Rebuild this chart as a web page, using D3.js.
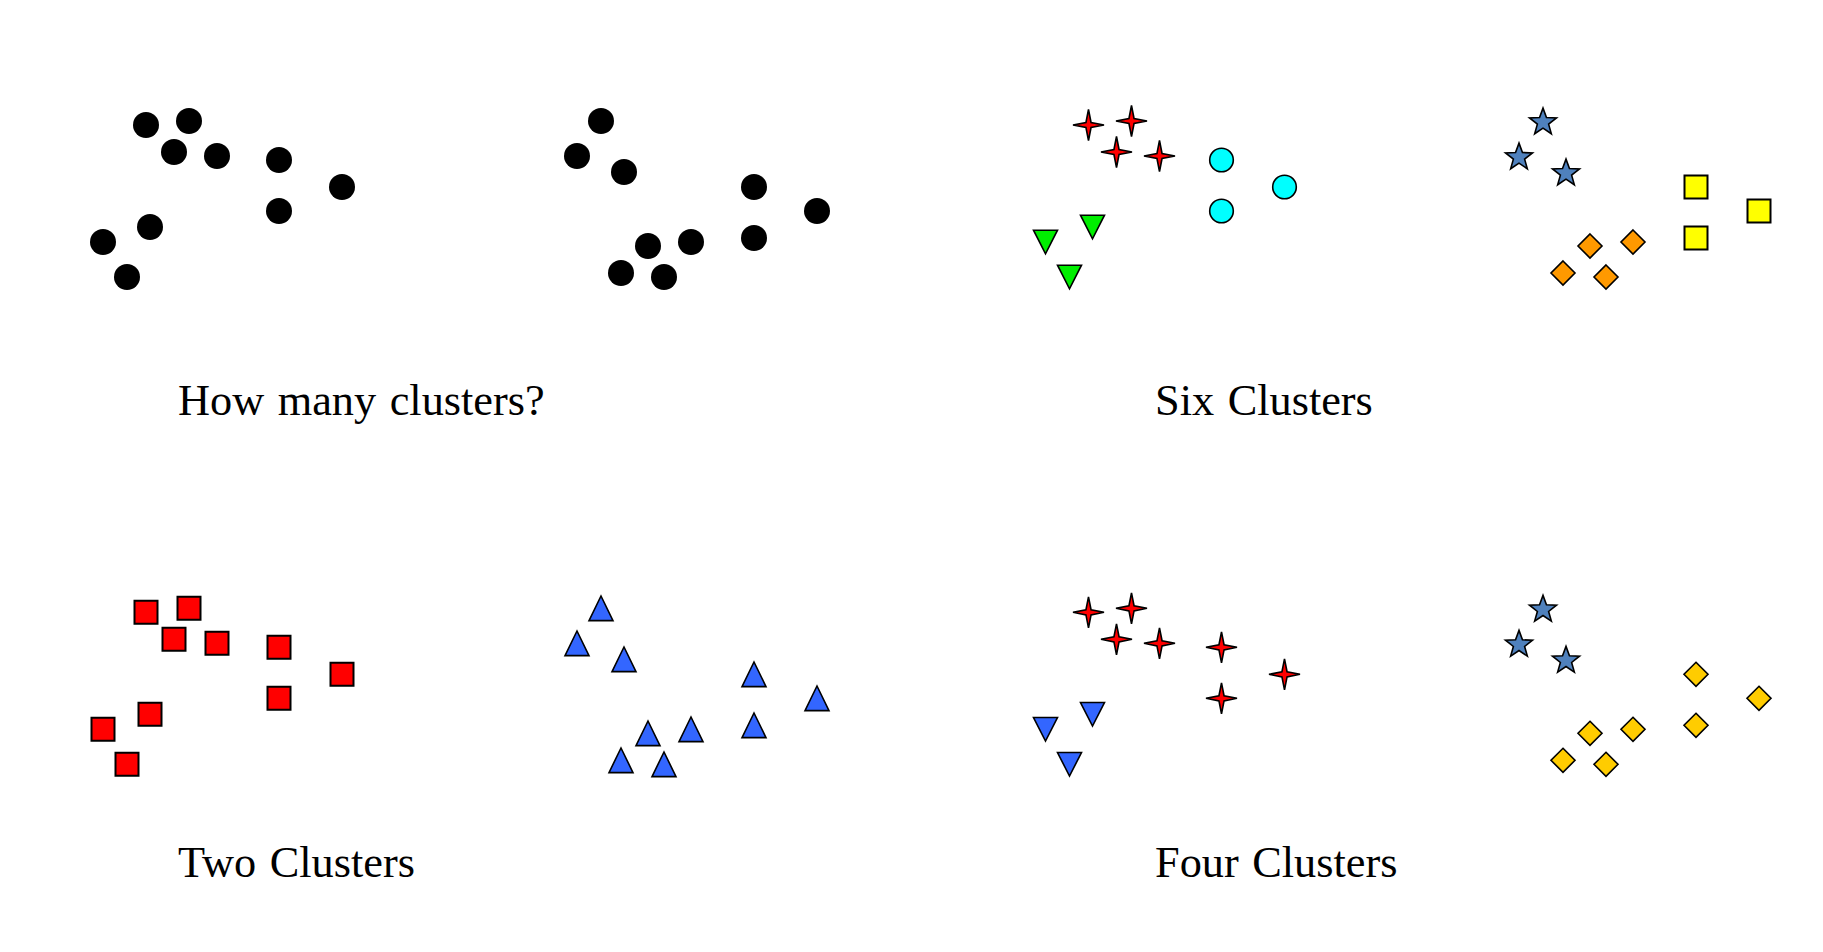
<!DOCTYPE html>
<html>
<head>
<meta charset="utf-8">
<script src="https://cdn.jsdelivr.net/npm/d3@7"></script>
<style>
  html, body { margin: 0; padding: 0; background: #fff; }
  svg { display: block; }
</style>
</head>
<body>
<svg id="chart" width="1823" height="952"></svg>
<script>
// ---------- DATA ----------
// Point set A (used in columns 1 and 3), units
const pointsAx = [4.6, 8.9, 7.4, 11.7, 17.9, 24.2, 17.9, 5.0, 0.3, 2.7];
const pointsAy = [15.5, 15.9, 12.8, 12.4, 12.0, 9.3, 6.9, 5.3, 3.8, 0.3];
// Point set B (used in columns 2 and 4)
const pointsBx = [2.7, 0.3, 5.0, 18.0, 24.3, 18.0, 7.4, 11.7, 4.7, 9.0];
const pointsBy = [15.9, 12.4, 10.8, 9.3, 6.9, 4.2, 3.4, 3.8, 0.7, 0.3];

// cluster assignment per point for each panel
const clustersNoneA = [0, 0, 0, 0, 0, 0, 0, 0, 0, 0];
const clustersNoneB = [0, 0, 0, 0, 0, 0, 0, 0, 0, 0];
const clustersSixA  = [0, 0, 0, 0, 1, 1, 1, 2, 2, 2];
const clustersSixB  = [0, 0, 0, 1, 1, 1, 2, 2, 2, 2];
const clustersTwoA  = [0, 0, 0, 0, 0, 0, 0, 0, 0, 0];
const clustersTwoB  = [0, 0, 0, 0, 0, 0, 0, 0, 0, 0];
const clustersFourA = [0, 0, 0, 0, 0, 0, 0, 1, 1, 1];
const clustersFourB = [0, 0, 0, 1, 1, 1, 1, 1, 1, 1];

const panelTitles = ["How many clusters?", "Six Clusters", "Two Clusters", "Four Clusters"];

// ---------- STYLES (marker per cluster) ----------
const styleNone  = [{shape: "dot", fill: "#000000"}];
const styleSixA  = [{shape: "star4", fill: "#ff0000"}, {shape: "circle", fill: "#00ffff"}, {shape: "triDown", fill: "#00ee00"}];
const styleSixB  = [{shape: "star5", fill: "#4f81bd"}, {shape: "square", fill: "#ffff00"}, {shape: "diamond", fill: "#ff9900"}];
const styleTwoA  = [{shape: "square", fill: "#ff0000"}];
const styleTwoB  = [{shape: "triUp", fill: "#3366ff"}];
const styleFourA = [{shape: "star4", fill: "#ff0000"}, {shape: "triDown", fill: "#3366ff"}];
const styleFourB = [{shape: "star5", fill: "#4f81bd"}, {shape: "diamond", fill: "#ffcc00"}];

// ---------- SHAPES ----------
function shapePath(shape) {
  const p = d3.path();
  if (shape === "dot") { p.arc(0, 0, 13, 0, 2 * Math.PI); return p.toString(); }
  if (shape === "circle") { p.arc(0, 0, 11.8, 0, 2 * Math.PI); return p.toString(); }
  if (shape === "square") { p.rect(-11.5, -11.5, 23, 23); return p.toString(); }
  if (shape === "triUp") { p.moveTo(0, -12.3); p.lineTo(12, 12.3); p.lineTo(-12, 12.3); p.closePath(); return p.toString(); }
  if (shape === "triDown") { p.moveTo(-12, -11.8); p.lineTo(12, -11.8); p.lineTo(0, 11.8); p.closePath(); return p.toString(); }
  if (shape === "diamond") { p.moveTo(0, -12); p.lineTo(12, 0); p.lineTo(0, 12); p.lineTo(-12, 0); p.closePath(); return p.toString(); }
  if (shape === "star5") {
    const R = 14.2, r = 5.9, dy = 1.3;
    for (let i = 0; i < 10; i++) {
      const a = -Math.PI / 2 + i * Math.PI / 5;
      const rad = i % 2 === 0 ? R : r;
      const x = rad * Math.cos(a), y = rad * Math.sin(a) + dy;
      if (i === 0) p.moveTo(x, y); else p.lineTo(x, y);
    }
    p.closePath(); return p.toString();
  }
  if (shape === "star4") {
    const R = 15.5, r = 3.6;
    for (let i = 0; i < 8; i++) {
      const a = -Math.PI / 2 + i * Math.PI / 4;
      const rad = i % 2 === 0 ? R : r;
      const x = rad * Math.cos(a), y = rad * Math.sin(a);
      if (i === 0) p.moveTo(x, y); else p.lineTo(x, y);
    }
    p.closePath(); return p.toString();
  }
  return "";
}

// ---------- LAYOUT ----------
const svg = d3.select("#chart");
svg.append("rect").attr("width", 1823).attr("height", 952).attr("fill", "#fff");

const x = d3.scaleLinear().domain([0, 25]).range([0, 250]);
const y = d3.scaleLinear().domain([0, 16]).range([0, -160]);

const colX = [100, 574, 1042.5, 1516];
const rowY = [280, 767.3];

const panels = [
  {col: 0, row: 0, xs: pointsAx, ys: pointsAy, cl: clustersNoneA, st: styleNone},
  {col: 1, row: 0, xs: pointsBx, ys: pointsBy, cl: clustersNoneB, st: styleNone},
  {col: 2, row: 0, xs: pointsAx, ys: pointsAy, cl: clustersSixA, st: styleSixA},
  {col: 3, row: 0, xs: pointsBx, ys: pointsBy, cl: clustersSixB, st: styleSixB},
  {col: 0, row: 1, xs: pointsAx, ys: pointsAy, cl: clustersTwoA, st: styleTwoA},
  {col: 1, row: 1, xs: pointsBx, ys: pointsBy, cl: clustersTwoB, st: styleTwoB},
  {col: 2, row: 1, xs: pointsAx, ys: pointsAy, cl: clustersFourA, st: styleFourA},
  {col: 3, row: 1, xs: pointsBx, ys: pointsBy, cl: clustersFourB, st: styleFourB}
];

panels.forEach(pn => {
  const g = svg.append("g").attr("transform", `translate(${colX[pn.col]},${rowY[pn.row]})`);
  const data = pn.xs.map((v, i) => ({x: v, y: pn.ys[i], c: pn.cl[i]}));
  g.selectAll("path").data(data).join("path")
    .attr("transform", d => `translate(${x(d.x)},${y(d.y)})`)
    .attr("d", d => shapePath(pn.st[d.c].shape))
    .attr("fill", d => pn.st[d.c].fill)
    .attr("stroke", d => pn.st[d.c].shape === "dot" ? "none" : "#000")
    .attr("stroke-width", d => pn.st[d.c].shape === "square" ? 2 : 1.6)
    .attr("stroke-linejoin", "miter");
});

const titleX = [178, 1155];
const titleY = [415, 877];
panelTitles.forEach((t, i) => {
  svg.append("text")
    .attr("x", titleX[i % 2])
    .attr("y", titleY[Math.floor(i / 2)])
    .attr("font-family", "'Liberation Serif', 'Times New Roman', serif")
    .attr("font-size", 44.3)
    .attr("word-spacing", 2.5)
    .attr("fill", "#000")
    .text(t);
});
</script>
</body>
</html>
